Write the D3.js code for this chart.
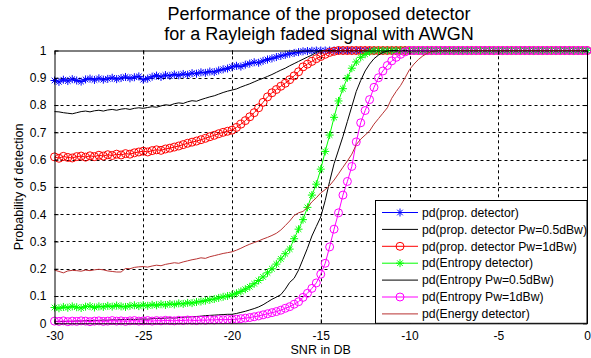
<!DOCTYPE html>
<html>
<head>
<meta charset="utf-8">
<script src="https://cdn.jsdelivr.net/npm/d3@7"></script>
<style>
  body { margin: 0; background: #fff; }
  svg text { font-family: Arial, "Liberation Sans", sans-serif; fill: #000; }
</style>
</head>
<body>
<svg class="chart" width="591" height="358"></svg>
<script>
// SNR grid (dB), one sample every 0.25 dB from -30 to 0
const snr = d3.range(-30, 0.001, 0.25);

const xTicks = [-30, -25, -20, -15, -10, -5, 0];
const yTicks = [0, 0.1, 0.2, 0.3, 0.4, 0.5, 0.6, 0.7, 0.8, 0.9, 1];

const titleLines = ["Performance of the proposed detector", "for a Rayleigh faded signal with AWGN"];

const propDetector = [
  0.890,0.885,0.893,0.888,0.895,0.890,0.886,0.894,0.897,0.892,0.898,0.893,0.896,0.900,0.895,0.899,0.903,0.898,0.902,0.905,
  0.893,0.897,0.904,0.908,0.903,0.910,0.907,0.912,0.909,0.914,0.911,0.917,0.915,0.920,0.918,0.923,0.921,0.927,0.931,0.934,
  0.940,0.944,0.941,0.948,0.952,0.957,0.955,0.962,0.967,0.971,0.976,0.980,0.984,0.988,0.991,0.994,0.997,0.998,0.999,1,
  1,1,1,1,1,1,1,1,1,1,1,1,1,1,1,1,1,1,1,1,
  1,1,1,1,1,1,1,1,1,1,1,1,1,1,1,1,1,1,1,1,
  1,1,1,1,1,1,1,1,1,1,1,1,1,1,1,1,1,1,1,1,1
];

const propDetectorPw05 = [
  0.776,0.775,0.772,0.770,0.768,0.772,0.776,0.778,0.775,0.779,0.781,0.778,0.782,0.784,0.781,0.785,0.787,0.784,0.788,0.790,
  0.788,0.791,0.794,0.792,0.797,0.801,0.799,0.805,0.808,0.806,0.812,0.816,0.814,0.820,0.825,0.830,0.834,0.840,0.846,0.851,
  0.855,0.859,0.866,0.872,0.878,0.885,0.892,0.898,0.905,0.912,0.920,0.928,0.935,0.944,0.952,0.960,0.968,0.976,0.983,0.993,
  1,1,1,1,1,1,1,1,1,1,1,1,1,1,1,1,1,1,1,1,
  1,1,1,1,1,1,1,1,1,1,1,1,1,1,1,1,1,1,1,1,
  1,1,1,1,1,1,1,1,1,1,1,1,1,1,1,1,1,1,1,1,1
];

const propDetectorPw1 = [
  0.610,0.605,0.612,0.608,0.606,0.611,0.613,0.609,0.614,0.611,0.616,0.613,0.618,0.615,0.620,0.617,0.622,0.620,0.625,0.628,
  0.631,0.628,0.633,0.636,0.634,0.639,0.642,0.646,0.650,0.655,0.660,0.664,0.668,0.673,0.678,0.684,0.689,0.695,0.700,0.704,
  0.708,0.718,0.730,0.743,0.757,0.772,0.790,0.810,0.830,0.845,0.857,0.869,0.880,0.893,0.907,0.922,0.940,0.950,0.960,0.970,
  0.978,0.986,0.993,0.997,1,1,1,1,1,1,1,1,1,1,1,1,1,1,1,1,
  1,1,1,1,1,1,1,1,1,1,1,1,1,1,1,1,1,1,1,1,
  1,1,1,1,1,1,1,1,1,1,1,1,1,1,1,1,1,1,1,1,1
];

const entropyDetector = [
  0.058,0.055,0.060,0.057,0.062,0.059,0.056,0.061,0.063,0.058,0.062,0.060,0.064,0.061,0.065,0.062,0.060,0.064,0.066,0.063,
  0.067,0.064,0.068,0.066,0.070,0.067,0.071,0.069,0.073,0.071,0.075,0.074,0.078,0.080,0.083,0.086,0.089,0.093,0.097,0.100,
  0.104,0.110,0.117,0.125,0.134,0.145,0.157,0.170,0.185,0.200,0.217,0.236,0.255,0.272,0.310,0.345,0.380,0.425,0.470,0.510,
  0.565,0.630,0.690,0.755,0.815,0.860,0.900,0.935,0.958,0.975,0.986,0.995,1,1,1,1,1,1,1,1,
  1,1,1,1,1,1,1,1,1,1,1,1,1,1,1,1,1,1,1,1,
  1,1,1,1,1,1,1,1,1,1,1,1,1,1,1,1,1,1,1,1,1
];

const entropyPw05 = [
  0.006,0.007,0.006,0.008,0.007,0.009,0.008,0.010,0.009,0.011,0.010,0.012,0.011,0.013,0.012,0.014,0.013,0.015,0.014,0.015,
  0.016,0.015,0.017,0.018,0.017,0.019,0.020,0.019,0.021,0.022,0.023,0.024,0.025,0.026,0.028,0.029,0.030,0.031,0.032,0.033,
  0.033,0.036,0.040,0.044,0.049,0.054,0.060,0.068,0.078,0.088,0.096,0.105,0.125,0.150,0.165,0.195,0.235,0.275,0.320,0.355,
  0.390,0.450,0.520,0.585,0.635,0.685,0.740,0.795,0.850,0.890,0.925,0.950,0.970,0.983,0.993,0.998,1,1,1,1,
  1,1,1,1,1,1,1,1,1,1,1,1,1,1,1,1,1,1,1,1,
  1,1,1,1,1,1,1,1,1,1,1,1,1,1,1,1,1,1,1,1,1
];

const entropyPw1 = [
  0.008,0.007,0.009,0.006,0.008,0.007,0.009,0.008,0.006,0.008,0.009,0.007,0.008,0.010,0.008,0.009,0.007,0.009,0.010,0.008,
  0.009,0.010,0.008,0.010,0.009,0.011,0.010,0.009,0.011,0.010,0.012,0.011,0.010,0.012,0.011,0.013,0.012,0.014,0.013,0.014,
  0.014,0.015,0.017,0.019,0.021,0.024,0.027,0.031,0.035,0.039,0.043,0.048,0.055,0.061,0.070,0.079,0.095,0.110,0.128,0.148,
  0.180,0.220,0.280,0.345,0.405,0.470,0.520,0.575,0.665,0.735,0.780,0.820,0.865,0.900,0.925,0.945,0.962,0.975,0.986,0.995,
  1,1,1,1,1,1,1,1,1,1,1,1,1,1,1,1,1,1,1,1,
  1,1,1,1,1,1,1,1,1,1,1,1,1,1,1,1,1,1,1,1,1
];

const energyDetector = [
  0.195,0.190,0.185,0.192,0.194,0.193,0.191,0.195,0.193,0.196,0.198,0.196,0.192,0.190,0.188,0.188,0.201,0.200,0.205,0.207,
  0.208,0.206,0.210,0.213,0.211,0.216,0.219,0.222,0.220,0.225,0.229,0.233,0.236,0.240,0.238,0.244,0.248,0.252,0.256,0.259,
  0.262,0.268,0.275,0.283,0.290,0.296,0.302,0.309,0.315,0.322,0.330,0.342,0.358,0.375,0.395,0.405,0.410,0.425,0.445,0.460,
  0.478,0.490,0.505,0.525,0.548,0.572,0.595,0.620,0.655,0.675,0.690,0.705,0.730,0.750,0.770,0.790,0.825,0.850,0.872,0.900,
  0.930,0.950,0.967,0.980,0.990,0.996,0.999,1,1,1,1,1,1,1,1,1,1,1,1,1,
  1,1,1,1,1,1,1,1,1,1,1,1,1,1,1,1,1,1,1,1,1
];

const series = [
  {name: "pd(prop. detector)",              values: propDetector,     color: "#0000ff", marker: "star"},
  {name: "pd(prop. detector Pw=0.5dBw)",    values: propDetectorPw05, color: "#000000", marker: null},
  {name: "pd(prop. detector Pw=1dBw)",      values: propDetectorPw1,  color: "#ff0000", marker: "circle"},
  {name: "pd(Entropy detector)",            values: entropyDetector,  color: "#00ff00", marker: "star"},
  {name: "pd(Entropy Pw=0.5dBw)",           values: entropyPw05,      color: "#000000", marker: null},
  {name: "pd(Entropy Pw=1dBw)",             values: entropyPw1,       color: "#ff00ff", marker: "circle"},
  {name: "pd(Energy detector)",             values: energyDetector,   color: "#b83232", marker: null}
];

const width = 591;
const height = 358;
const margin = {top: 50.5, right: 4, bottom: 34.7, left: 54.5};

const svg = d3.select(".chart");

const x = d3.scaleLinear()
    .domain([-30, 0])
    .range([margin.left, width - margin.right]);

const y = d3.scaleLinear()
    .domain([0, 1])
    .range([height - margin.bottom, margin.top]);

const starPath = "M-4,0L4,0M0,-4L0,4M-2.8,-2.8L2.8,2.8M-2.8,2.8L2.8,-2.8";

// title
svg.append("g")
    .attr("text-anchor", "middle")
    .style("font-size", "18px")
    .selectAll("text")
    .data(titleLines)
    .enter().append("text")
      .attr("x", 319)
      .attr("y", (d, i) => 19.5 + i * 20)
      .text(d => d);

// grid
const grid = svg.append("g")
    .attr("stroke", "#000")
    .attr("stroke-width", 1)
    .attr("stroke-dasharray", "3,3");

grid.selectAll(".vgrid")
    .data(xTicks.slice(1, -1))
    .enter().append("line")
      .attr("x1", d => Math.round(x(d)) + 0.5)
      .attr("x2", d => Math.round(x(d)) + 0.5)
      .attr("y1", y(0))
      .attr("y2", y(1));

grid.selectAll(".hgrid")
    .data(yTicks.slice(1, -1))
    .enter().append("line")
      .attr("y1", d => Math.round(y(d)) + 0.5)
      .attr("y2", d => Math.round(y(d)) + 0.5)
      .attr("x1", x(-30))
      .attr("x2", x(0));

// series
const line = d3.line()
    .x((d, i) => x(snr[i]))
    .y(d => y(d));

series.forEach(s => {
    const g = svg.append("g");
    g.append("path")
        .datum(s.values)
        .attr("fill", "none")
        .attr("stroke", s.color)
        .attr("stroke-width", 1)
        .attr("d", line);

    if (s.marker === "star") {
        g.selectAll("path.mk")
            .data(s.values)
            .enter().append("path")
              .attr("class", "mk")
              .attr("transform", (d, i) => `translate(${x(snr[i])},${y(d)})`)
              .attr("d", starPath)
              .attr("stroke", s.color)
              .attr("stroke-width", 1)
              .attr("fill", "none");
    } else if (s.marker === "circle") {
        g.selectAll("circle")
            .data(s.values)
            .enter().append("circle")
              .attr("cx", (d, i) => x(snr[i]))
              .attr("cy", d => y(d))
              .attr("r", 4)
              .attr("stroke", s.color)
              .attr("stroke-width", 1)
              .attr("fill", "none");
    }
});

// axes (ticks inside, box on)
const fmt = d => String(d);

svg.append("g")
    .attr("transform", `translate(0,${y(0)})`)
    .call(d3.axisBottom(x).tickValues(xTicks).tickFormat(fmt).tickSizeInner(-4).tickSizeOuter(0).tickPadding(8))
    .call(g => g.selectAll("text").style("font-size", "12px"));

svg.append("g")
    .attr("transform", `translate(${x(-30)},0)`)
    .call(d3.axisLeft(y).tickValues(yTicks).tickFormat(fmt).tickSizeInner(-4).tickSizeOuter(0).tickPadding(8))
    .call(g => g.selectAll("text").style("font-size", "12px"));

svg.append("g")
    .attr("transform", `translate(0,${y(1)})`)
    .call(d3.axisTop(x).tickValues(xTicks).tickFormat("").tickSizeInner(-4).tickSizeOuter(0));

svg.append("g")
    .attr("transform", `translate(${x(0)},0)`)
    .call(d3.axisRight(y).tickValues(yTicks).tickFormat("").tickSizeInner(-4).tickSizeOuter(0));

svg.selectAll(".domain").attr("stroke", "#000");

// axis labels
svg.append("text")
    .attr("x", x(-15))
    .attr("y", 354)
    .attr("text-anchor", "middle")
    .style("font-size", "12.5px")
    .text("SNR in DB");

svg.append("text")
    .attr("transform", `translate(23,${(y(0) + y(1)) / 2}) rotate(-90)`)
    .attr("text-anchor", "middle")
    .style("font-size", "12.5px")
    .text("Probability of detection");

// legend
const legend = svg.append("g");
legend.append("rect")
    .attr("x", 375.5)
    .attr("y", 200.5)
    .attr("width", x(0) - 375.5)
    .attr("height", y(0) - 200.5)
    .attr("fill", "#fff")
    .attr("stroke", "#000")
    .attr("stroke-width", 1);

const row = legend.selectAll(".row")
    .data(series)
    .enter().append("g")
      .attr("transform", (d, i) => `translate(0,${212.5 + i * 16.9})`);

row.append("line")
    .attr("x1", 382)
    .attr("x2", 418)
    .attr("stroke", d => d.color)
    .attr("stroke-width", 1);

row.filter(d => d.marker === "star").append("path")
    .attr("transform", "translate(400,0)")
    .attr("d", starPath)
    .attr("stroke", d => d.color)
    .attr("fill", "none");

row.filter(d => d.marker === "circle").append("circle")
    .attr("cx", 400)
    .attr("r", 4)
    .attr("stroke", d => d.color)
    .attr("fill", "none");

row.append("text")
    .attr("x", 422)
    .attr("dy", "0.35em")
    .style("font-size", "12.2px")
    .text(d => d.name);
</script>
</body>
</html>
